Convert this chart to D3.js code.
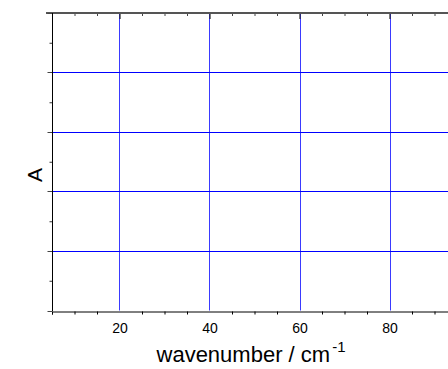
<!DOCTYPE html>
<html><head><meta charset="utf-8">
<script src="https://cdn.jsdelivr.net/npm/d3@7"></script>
<style>
html,body{margin:0;padding:0;background:#fff;overflow:hidden;}
svg{display:block;font-family:"Liberation Sans",Arial,sans-serif;}
</style></head>
<body>
<svg id="c" width="448" height="369"></svg>
<script>
const xDomain = [5, 100];
const yDomain = [0, 1];
const xMajorTicks = [20, 40, 60, 80, 100];
const xTickLabels = [20, 40, 60, 80];
const xMinorTicks = d3.range(5, 101, 5);
const yMajorTicks = [0, 0.2, 0.4, 0.6, 0.8, 1.0];
const yMinorTicks = d3.range(0, 1.001, 0.1);
const xGrid = [20, 40, 60, 80, 100];
const yGrid = [0.2, 0.4, 0.6, 0.8];
const xLabel = "wavenumber / cm";
const xLabelSup = "-1";
const yLabel = "A";

const svg = d3.select("#c");
const x = d3.scaleLinear().domain(xDomain).range([52, 479.5]);
const y = d3.scaleLinear().domain(yDomain).range([310.5, 13]);

// gridlines
const gridG = svg.append("g").attr("class", "grid");
gridG.selectAll("rect.gx").data(xGrid).join("rect").attr("class", "gx")
  .attr("x", d => Math.round(x(d))).attr("width", 1)
  .attr("y", y(1)).attr("height", y(0) - y(1))
  .attr("fill", "#3a3aff");
gridG.selectAll("rect.gy").data(yGrid).join("rect").attr("class", "gy")
  .attr("x", x(xDomain[0])).attr("width", 448 - x(xDomain[0]))
  .attr("y", d => Math.round(y(d))).attr("height", 1)
  .attr("fill", "#0000ff");

// bottom axis
const bottom = d3.axisBottom(x).tickValues(xMinorTicks.filter(d => !xMajorTicks.includes(d)))
  .tickSize(3).tickFormat("");
const gb = svg.append("g").attr("transform", `translate(0,${Math.round(y(0)) + 0.5})`).call(bottom);
gb.select(".domain").attr("stroke", "#000");
gb.selectAll(".tick line").attr("stroke", "#000");
const bottomLab = d3.axisBottom(x).tickValues(xTickLabels).tickSize(0).tickPadding(12)
  .tickFormat(d3.format("d"));
const gbl = svg.append("g").attr("transform", `translate(0,${Math.round(y(0)) + 0.5})`).call(bottomLab);
gbl.select(".domain").remove();
gbl.selectAll("text").attr("font-size", 14).attr("fill", "#000")
  .attr("font-family", "Liberation Sans, Arial, sans-serif");

// top axis
const topMinor = d3.axisBottom(x).tickValues(xMinorTicks.filter(d => !xMajorTicks.includes(d)))
  .tickSize(3).tickFormat("");
const gt = svg.append("g").attr("transform", `translate(0,${y(1)})`).call(topMinor);
gt.select(".domain").remove();
gt.selectAll(".tick line").attr("stroke", "#444");
const topMajor = d3.axisBottom(x).tickValues(xMajorTicks).tickSize(6).tickFormat("");
const gt2 = svg.append("g").attr("transform", `translate(0,${y(1)})`).call(topMajor);
gt2.select(".domain").remove();
gt2.selectAll(".tick line").attr("stroke", "#222").attr("stroke-width", 1.2);
svg.append("line").attr("x1", x(xDomain[0]) - 6).attr("x2", 448)
  .attr("y1", y(1)).attr("y2", y(1)).attr("stroke", "#555").attr("stroke-width", 2);

// left axis
const leftMinor = d3.axisLeft(y).tickValues(yMinorTicks.filter((d, i) => i % 2 === 1))
  .tickSize(3).tickFormat("");
const gl = svg.append("g").attr("transform", `translate(${x(xDomain[0]) + 0.5},0)`).call(leftMinor);
gl.select(".domain").remove();
gl.selectAll(".tick line").attr("stroke", "#333");
const leftMajor = d3.axisLeft(y).tickValues(yMajorTicks).tickSize(5).tickFormat("");
const gl2 = svg.append("g").attr("transform", `translate(${x(xDomain[0]) + 0.5},0)`).call(leftMajor);
gl2.select(".domain").remove();
gl2.selectAll(".tick line").attr("stroke", "#444");
gl2.selectAll(".tick").attr("transform", d => `translate(0,${Math.round(y(d)) + 0.5})`);
svg.append("line").attr("x1", x(xDomain[0]) + 0.5).attr("x2", x(xDomain[0]) + 0.5)
  .attr("y1", y(1)).attr("y2", y(0) + 0.5).attr("stroke", "#000").attr("stroke-width", 1);

// axis labels
const xl = svg.append("text").attr("x", 251).attr("y", 362)
  .attr("text-anchor", "middle").attr("font-size", 22).attr("fill", "#000");
xl.append("tspan").text(xLabel);
xl.append("tspan").attr("dy", -10).attr("dx", 2).attr("font-size", 15).text(xLabelSup);

svg.append("text").attr("transform", "translate(42,175) rotate(-90)")
  .attr("text-anchor", "middle").attr("font-size", 21).attr("fill", "#000").text(yLabel);
</script>
</body></html>
